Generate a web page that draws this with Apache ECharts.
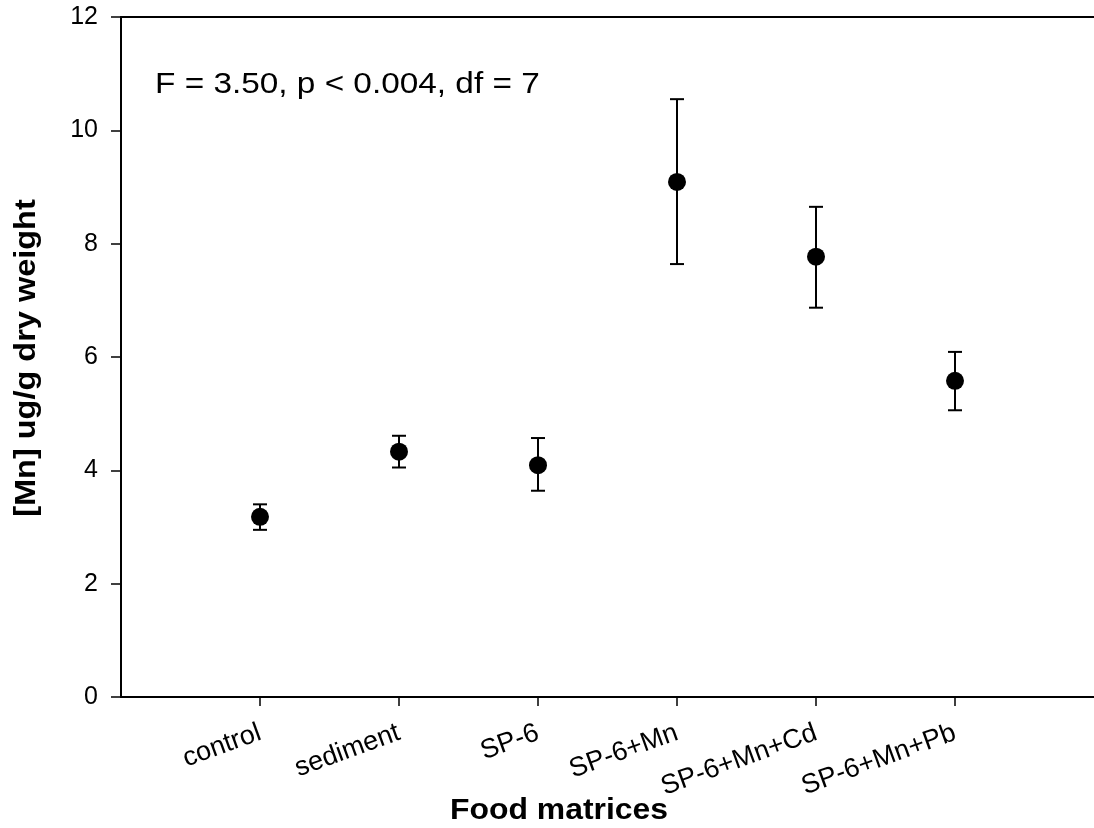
<!DOCTYPE html>
<html>
<head>
<meta charset="utf-8">
<script src="https://cdn.jsdelivr.net/npm/echarts@6/dist/echarts.min.js"></script>
<style>html,body{margin:0;padding:0;background:#fff;}#c{width:1094px;height:828px;}</style>
</head>
<body>
<div id="c"></div>
<script>
const categories = ['control', 'sediment', 'SP-6', 'SP-6+Mn', 'SP-6+Mn+Cd', 'SP-6+Mn+Pb'];
const means = [3.18, 4.33, 4.09, 9.09, 7.77, 5.58];
const lows  = [2.95, 4.05, 3.64, 7.64, 6.87, 5.06];
const highs = [3.40, 4.61, 4.57, 10.55, 8.65, 6.09];
const yTicks = [0, 2, 4, 6, 8, 10, 12];
const annotation = 'F = 3.50, p < 0.004, df = 7';
const xTitle = 'Food matrices';
const yTitle = '[Mn] ug/g dry weight';

const positions = categories.map((c, i) => i + 1);
const font = '"Liberation Sans", Arial, sans-serif';

const chart = echarts.init(document.getElementById('c'), null, {renderer: 'canvas'});
chart.setOption({
  backgroundColor: '#fff',
  animation: false,
  grid: {left: 121, top: 17, width: 979, height: 680},
  xAxis: [{
    type: 'value', min: 0, max: 7, interval: 1,
    splitLine: {show: false},
    axisLine: {show: true, onZero: false, lineStyle: {color: '#000', width: 2}},
    axisTick: {show: true, length: 9, customValues: positions, lineStyle: {color: '#000', width: 1.5}},
    axisLabel: {
      customValues: positions, rotate: 20, margin: 35,
      color: '#000', fontSize: 27, fontFamily: font,
      formatter: v => categories[Math.round(v) - 1] || ''
    }
  }, {
    type: 'value', min: 0, max: 7, position: 'top',
    splitLine: {show: false},
    axisLine: {show: true, onZero: false, lineStyle: {color: '#000', width: 2}},
    axisTick: {show: false}, axisLabel: {show: false}
  }],
  yAxis: {
    type: 'value', min: yTicks[0], max: yTicks[yTicks.length - 1], interval: 2,
    splitLine: {show: false},
    axisLine: {show: true, lineStyle: {color: '#000', width: 2}},
    axisTick: {show: true, length: 10, lineStyle: {color: '#000', width: 1.5}},
    axisLabel: {color: '#000', fontSize: 25, fontFamily: font, margin: 23}
  },
  graphic: [
    {type: 'text', x: 155, y: 85, scaleX: 1.15,
     style: {text: annotation, font: '29px ' + font, fill: '#000', textAlign: 'left', textVerticalAlign: 'middle'}},
    {type: 'text', x: 559, y: 811, scaleX: 1.1,
     style: {text: xTitle, font: 'bold 29px ' + font, fill: '#000', textAlign: 'center', textVerticalAlign: 'middle'}},
    {type: 'text', x: 27, y: 358, rotation: Math.PI / 2, scaleX: 1.12,
     style: {text: yTitle, font: 'bold 29px ' + font, fill: '#000', textAlign: 'center', textVerticalAlign: 'middle'}}
  ],
  series: [{
    type: 'custom',
    xAxisIndex: 0,
    data: positions.map((p, i) => [p, lows[i], highs[i]]),
    renderItem: function (params, api) {
      const x = api.value(0);
      const pLo = api.coord([x, api.value(1)]);
      const pHi = api.coord([x, api.value(2)]);
      const w = 7;
      const st = {stroke: '#000', lineWidth: 2};
      return {type: 'group', children: [
        {type: 'line', shape: {x1: pLo[0], y1: pLo[1], x2: pHi[0], y2: pHi[1]}, style: st},
        {type: 'line', shape: {x1: pHi[0] - w, y1: pHi[1], x2: pHi[0] + w, y2: pHi[1]}, style: st},
        {type: 'line', shape: {x1: pLo[0] - w, y1: pLo[1], x2: pLo[0] + w, y2: pLo[1]}, style: st}
      ]};
    },
    z: 2
  }, {
    type: 'scatter',
    xAxisIndex: 0,
    data: positions.map((p, i) => [p, means[i]]),
    symbol: 'circle', symbolSize: 18,
    itemStyle: {color: '#000', opacity: 1},
    z: 3
  }]
});
</script>
</body>
</html>
